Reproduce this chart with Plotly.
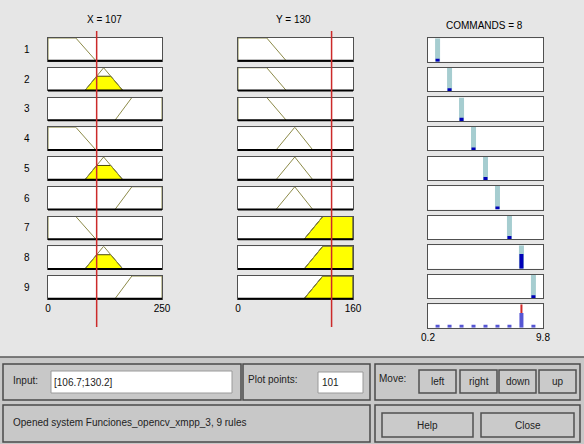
import plotly.graph_objects as go

W, H = 584, 444

# ---------------- data ----------------
x_input = 106.7
y_input = 130.2
x_range = [0, 250]
y_range = [0, 160]
out_range = [0.2, 9.8]
x_ticks = ["0", "250"]
y_ticks = ["0", "160"]
out_ticks = ["0.2", "9.8"]

# trapezoid parameters [a, b, c, d]
x_low = [0, 0, 61, 105]
x_mid = [81, 122, 122, 164]
x_high = [147, 184, 250, 250]
y_low = [0, 0, 40, 67]
y_mid = [53, 79, 79, 104]
y_high = [92, 118, 160, 160]

rule_num = [1, 2, 3, 4, 5, 6, 7, 8, 9]
rule_x = ["low", "mid", "high", "low", "mid", "high", "low", "mid", "high"]
rule_y = ["low", "low", "low", "mid", "mid", "mid", "high", "high", "high"]
rule_out = [1, 2, 3, 4, 5, 6, 7, 8, 9]

status_text = "Opened system Funciones_opencv_xmpp_3, 9 rules"
plot_points = "101"

x_mfs = {"low": x_low, "mid": x_mid, "high": x_high}
y_mfs = {"low": y_low, "mid": y_mid, "high": y_high}


def mu(v, p):
    a, b, c, d = p
    if v < a or v > d:
        return 0.0
    if b <= v <= c:
        return 1.0
    if v < b:
        return (v - a) / (b - a) if b > a else 1.0
    return (d - v) / (d - c) if d > c else 1.0


def mf_line(p):
    a, b, c, d = p
    return [a, b, c, d], [0, 1, 1, 0]


def clipped(p, m):
    a, b, c, d = p
    xs = [a, a + m * (b - a), d - m * (d - c), d, a]
    ys = [0, m, m, 0, 0]
    return xs, ys


mx = [mu(x_input, x_mfs[r]) for r in rule_x]
my = [mu(y_input, y_mfs[r]) for r in rule_y]
w = [min(a, b) for a, b in zip(mx, my)]
out_val = sum(wi * zi for wi, zi in zip(w, rule_out)) / sum(w)

# ---------------- layout helpers ----------------
def px(x):
    return x / W


def py(y):
    return 1 - y / H


FONT = "Liberation Sans, Arial, sans-serif"
MF_COL = "#8c8a48"
fig = go.Figure()
layout = {}
shapes = []
annotations = []

col_x = [(48, 162), (238, 353), (428, 543)]
axis_n = [0]


def new_axis(cx, top, bottom, xr, ticks=None):
    axis_n[0] += 1
    n = axis_n[0]
    xs = "" if n == 1 else str(n)
    xa = dict(domain=[px(cx[0]), px(cx[1])], range=xr, anchor="y" + xs,
              showgrid=False, zeroline=False, showline=True, mirror=True,
              linecolor="#505050", linewidth=1, ticks="", fixedrange=True,
              showticklabels=False, automargin=False)
    if ticks:
        xa.update(showticklabels=True, tickvals=xr, ticktext=ticks,
                  tickfont=dict(family=FONT, size=10, color="#000"))
    ya = dict(domain=[py(bottom), py(top)], range=[0, 1], anchor="x" + xs,
              showgrid=False, zeroline=False, showline=True, mirror=True,
              linecolor="#505050", linewidth=1, ticks="", showticklabels=False,
              fixedrange=True, automargin=False)
    layout["xaxis" + xs] = xa
    layout["yaxis" + xs] = ya
    return "x" + xs, "y" + xs


def text(x, y, t, anchor="center", size=10, color="#000"):
    annotations.append(dict(x=px(x), y=py(y), xref="paper", yref="paper", text=t,
                            showarrow=False, xanchor=anchor, yanchor="middle",
                            font=dict(family=FONT, size=size, color=color)))


pitch = 29.75
first_x_axis = None
first_y_axis = None
for i in range(9):
    top = 38 + pitch * i
    bot = top + 22.7
    # X column
    xa, ya = new_axis(col_x[0], top, bot, x_range, x_ticks if i == 8 else None)
    if i == 0:
        first_x_axis = xa
    p = x_mfs[rule_x[i]]
    if mx[i] > 0:
        fx, fy = clipped(p, mx[i])
        fig.add_trace(go.Scatter(x=fx, y=fy, mode="lines", fill="toself",
                                 fillcolor="#ffff00", line=dict(color="#4a4a10", width=1),
                                 xaxis=xa, yaxis=ya, hoverinfo="skip"))
    lx, ly = mf_line(p)
    fig.add_trace(go.Scatter(x=lx, y=ly, mode="lines", line=dict(color=MF_COL, width=1),
                             xaxis=xa, yaxis=ya, hoverinfo="skip"))
    shapes.append(dict(type="line", xref=xa + " domain", yref=ya + " domain",
                       x0=0, x1=1, y0=0, y1=0, line=dict(color="#000", width=2)))
    text(27, (top + bot) / 2, str(rule_num[i]))
    # Y column
    xa, ya = new_axis(col_x[1], top, bot, y_range, y_ticks if i == 8 else None)
    if i == 0:
        first_y_axis = xa
    p = y_mfs[rule_y[i]]
    if my[i] > 0:
        fx, fy = clipped(p, my[i])
        fig.add_trace(go.Scatter(x=fx, y=fy, mode="lines", fill="toself",
                                 fillcolor="#ffff00", line=dict(color="#202000", width=1),
                                 xaxis=xa, yaxis=ya, hoverinfo="skip"))
    lx, ly = mf_line(p)
    fig.add_trace(go.Scatter(x=lx, y=ly, mode="lines", line=dict(color=MF_COL, width=1),
                             xaxis=xa, yaxis=ya, hoverinfo="skip"))
    shapes.append(dict(type="line", xref=xa + " domain", yref=ya + " domain",
                       x0=0, x1=1, y0=0, y1=0, line=dict(color="#000", width=2)))

# output column
opitch = 29.56
MIN_H = 0.13
for i in range(10):
    top = 38.3 + opitch * i
    bot = top + 23.5
    xa, ya = new_axis(col_x[2], top, bot, out_range, out_ticks if i == 9 else None)
    if i < 9:
        z = rule_out[i]
        fig.add_trace(go.Scatter(x=[z, z], y=[0, 1], mode="lines",
                                 line=dict(color="#a6cdd0", width=5),
                                 xaxis=xa, yaxis=ya, hoverinfo="skip"))
        fig.add_trace(go.Scatter(x=[z, z], y=[0, max(w[i], MIN_H)], mode="lines",
                                 line=dict(color="#0000b8", width=4),
                                 xaxis=xa, yaxis=ya, hoverinfo="skip"))
    else:
        for zi, wi in zip(rule_out, w):
            fig.add_trace(go.Scatter(x=[zi, zi], y=[0, max(wi, MIN_H)], mode="lines",
                                     line=dict(color="#5656d4", width=4),
                                     xaxis=xa, yaxis=ya, hoverinfo="skip"))
        fig.add_trace(go.Scatter(x=[out_val, out_val], y=[max(w), 1], mode="lines",
                                 line=dict(color="#d02828", width=2),
                                 xaxis=xa, yaxis=ya, hoverinfo="skip"))

# red input lines
for ax, val in ((first_x_axis, x_input), (first_y_axis, y_input)):
    shapes.append(dict(type="line", xref=ax, yref="paper", x0=val, x1=val,
                       y0=py(31), y1=py(327), line=dict(color="#cc2a2a", width=1.5),
                       layer="above"))

# titles
text(104, 19, f"X = {round(x_input)}")
text(293, 19, f"Y = {round(y_input)}")
text(484, 26, f"COMMANDS = {round(out_val)}")

# ---------------- bottom UI ----------------
def rect(x0, y0, x1, y1, fill, line="#4a4a4a", lw=1.5):
    shapes.append(dict(type="rect", xref="paper", yref="paper", x0=px(x0), x1=px(x1),
                       y0=py(y1), y1=py(y0), fillcolor=fill,
                       line=dict(color=line, width=lw), layer="below"))


rect(-2, 357, 586, 446, "#c8c8c8", line="#5a5a5a", lw=1.5)
rect(3, 364, 241, 400, "#c8c8c8")
rect(243, 364, 370, 400, "#c8c8c8")
rect(375, 364, 580, 400, "#c8c8c8")
rect(3, 405, 370, 442, "#c8c8c8")
rect(375, 405, 580, 442, "#c8c8c8")
rect(51, 371, 232, 393, "#ffffff", line="#9a9a9a", lw=1)
rect(318, 372, 363, 393, "#ffffff", line="#9a9a9a", lw=1)
buttons = [("left", 419, 370, 456, 393), ("right", 460, 370, 497, 393),
           ("down", 499, 370, 536, 393), ("up", 539, 370, 576, 393),
           ("Help", 382, 413, 473, 437), ("Close", 481, 413, 574, 437)]
for t, x0, y0, x1, y1 in buttons:
    rect(x0, y0, x1, y1, "#cacaca", line="#505050", lw=1.5)
    text((x0 + x1) / 2, (y0 + y1) / 2, t, color="#222")

text(11, 380, "Input:", anchor="left", color="#222")
text(52, 382, f"[{x_input};{y_input}]", anchor="left", color="#222")
text(246, 379, "Plot points:", anchor="left", color="#222")
text(320, 382, plot_points, anchor="left", color="#222")
text(377, 378, "Move:", anchor="left", color="#222")
text(11, 422, status_text, anchor="left", color="#222")

layout.update(width=W, height=H, autosize=False,
              margin=dict(l=0, r=0, t=0, b=0, pad=0, autoexpand=False),
              paper_bgcolor="#e6e6e6", plot_bgcolor="#ffffff",
              showlegend=False, shapes=shapes, annotations=annotations)
fig.update_layout(**layout)
fig.write_html("out.html", config={"responsive": False, "displayModeBar": False},
               post_script="document.body.style.margin='0';document.body.style.overflow='hidden';")
